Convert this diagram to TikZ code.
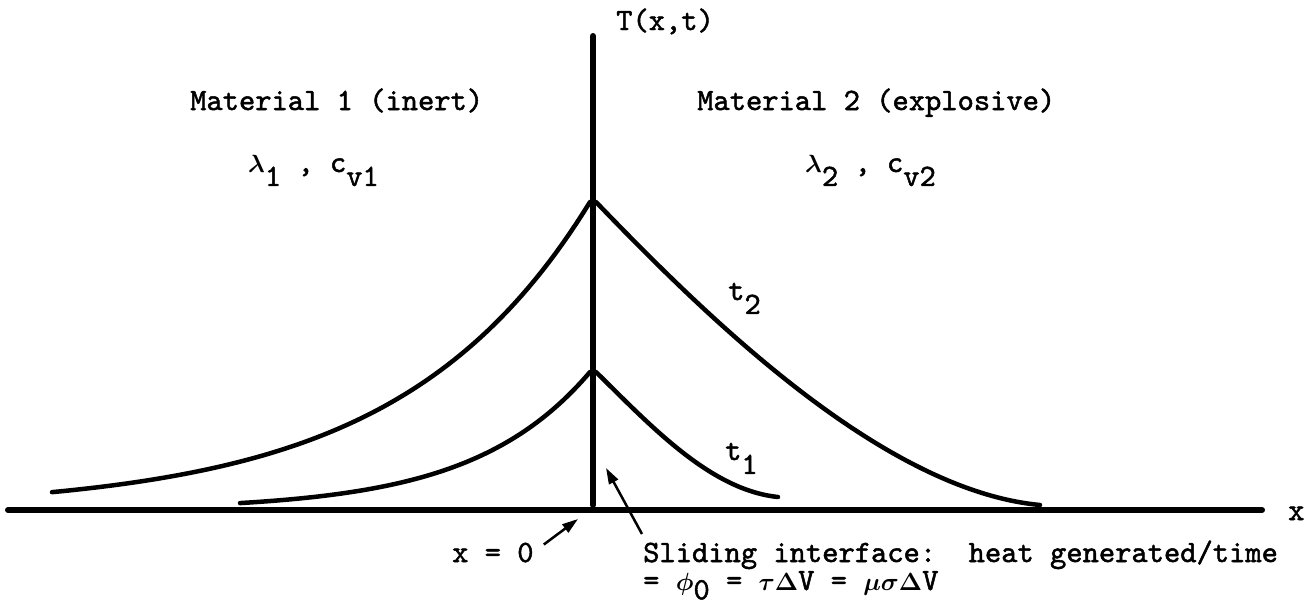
\documentclass[tikz,border=0pt]{standalone}
\usepackage{fontspec}
\newfontfamily\tw{lmmono10-regular.otf}[FakeBold=1.6]
\usetikzlibrary{arrows.meta}
\newcommand\dn[1]{\raisebox{-0.45em}{#1}}
\begin{document}
\begin{tikzpicture}[x=1pt,y=-1pt,
  txt/.style={inner sep=0pt,font=\fontsize{31}{34}\selectfont\tw\boldmath},
  axis/.style={line width=6pt,line cap=round},
  curve/.style={line width=4.5pt,line cap=round},
  ptr/.style={line width=2.5pt,-{Triangle[length=16pt,width=10pt]}}]
\useasboundingbox (0,0) rectangle (1316,605);
% axes
\coordinate (xl) at (8,510);
\coordinate (xr) at (1262,510);
\coordinate (yb) at (593,505);
\coordinate (yt) at (593,36);
\draw[axis] (xl) -- (xr);
\draw[axis] (yb) -- (yt);
% curves t2
\coordinate (q2) at (596,202);
\coordinate (e2) at (1040,505);
\draw[curve] plot[domain=52:590,samples=80] (\x,{510-308*exp((\x-590)/189)});
\draw[curve] (q2) .. controls (700,310) and (880,490) .. (e2);
% curves t1
\coordinate (q1) at (596,372);
\coordinate (e1) at (778,497);
\draw[curve] plot[domain=240:590,samples=80] (\x,{510-138*exp((\x-590)/117)});
\draw[curve] (q1) .. controls (650,425) and (710,490) .. (e1);
% labels
\node[txt,anchor=base west] (T) at (616,30) {T(x,t)};
\node[txt,anchor=base west] (m1) at (190,110) {Material 1 (inert)};
\node[txt,anchor=base west] (m2) at (697,110) {Material 2 (explosive)};
\node[txt,anchor=base west] (l1) at (248,172) {$\lambda$\dn{1} , c\dn{v1}};
\node[txt,anchor=base west] (l2) at (805,172) {$\lambda$\dn{2} , c\dn{v2}};
\node[txt,anchor=base west] (t2) at (728,300) {t\dn{2}};
\node[txt,anchor=base west] (t1) at (725,460) {t\dn{1}};
\node[txt,anchor=base west] (xlab) at (1288,520) {x};
\node[txt,anchor=base west] (x0) at (452,562) {x = 0};
\node[txt,anchor=base west] (s1) at (643,562) {Sliding interface:\ \ heat generated/time};
\node[txt,anchor=base west] (s2) at (643,590) {= $\phi$\raisebox{-0.3em}{0} = $\tau\Delta$V = $\mu\sigma\Delta$V};
% pointers
\coordinate (x0h) at (578,519);
\coordinate (sh) at (606,468);
\draw[ptr] (x0.east) ++(10,-8) coordinate (x0t) -- (x0h);
\draw[ptr] (642,534) coordinate (st) -- (sh);
\end{tikzpicture}
\end{document}
